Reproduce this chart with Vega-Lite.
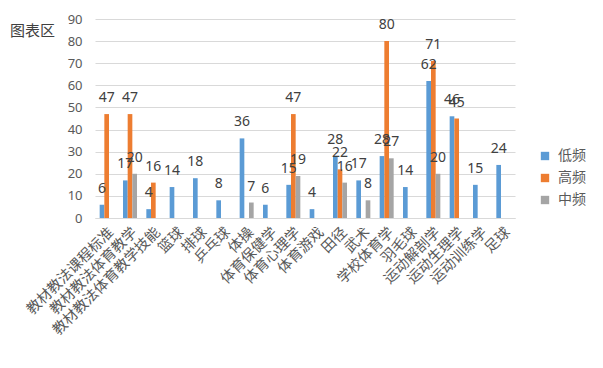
{
  "$schema": "https://vega.github.io/schema/vega-lite/v6.json",
  "width": 420,
  "height": 199,
  "autosize": {"type": "none"},
  "padding": {"left": 95, "top": 19, "right": 88, "bottom": 150},
  "background": "white",
  "title": {
    "text": "图表区",
    "anchor": "start",
    "frame": "group",
    "orient": "top",
    "dx": -85,
    "dy": 30,
    "fontSize": 15,
    "fontWeight": "normal",
    "font": "Noto Sans CJK SC",
    "color": "#404040"
  },
  "config": {
    "view": {"stroke": null},
    "font": "Noto Sans CJK SC",
    "axis": {"labelFont": "Noto Sans CJK SC", "labelColor": "#595959", "titleColor": "#595959"},
    "legend": {"labelFont": "Noto Sans CJK SC"}
  },
  "data": {
    "values": [
      {"cat": "教材教法课程标准", "series": "低频", "value": 6},
      {"cat": "教材教法课程标准", "series": "高频", "value": 47},
      {"cat": "教材教法体育教学", "series": "低频", "value": 17},
      {"cat": "教材教法体育教学", "series": "高频", "value": 47},
      {"cat": "教材教法体育教学", "series": "中频", "value": 20},
      {"cat": "教材教法体育教学技能", "series": "低频", "value": 4},
      {"cat": "教材教法体育教学技能", "series": "高频", "value": 16},
      {"cat": "篮球", "series": "低频", "value": 14},
      {"cat": "排球", "series": "低频", "value": 18},
      {"cat": "乒乓球", "series": "低频", "value": 8},
      {"cat": "体操", "series": "低频", "value": 36},
      {"cat": "体操", "series": "中频", "value": 7},
      {"cat": "体育保健学", "series": "低频", "value": 6},
      {"cat": "体育心理学", "series": "低频", "value": 15},
      {"cat": "体育心理学", "series": "高频", "value": 47},
      {"cat": "体育心理学", "series": "中频", "value": 19},
      {"cat": "体育游戏", "series": "低频", "value": 4},
      {"cat": "田径", "series": "低频", "value": 28},
      {"cat": "田径", "series": "高频", "value": 22},
      {"cat": "田径", "series": "中频", "value": 16},
      {"cat": "武术", "series": "低频", "value": 17},
      {"cat": "武术", "series": "中频", "value": 8},
      {"cat": "学校体育学", "series": "低频", "value": 28},
      {"cat": "学校体育学", "series": "高频", "value": 80},
      {"cat": "学校体育学", "series": "中频", "value": 27},
      {"cat": "羽毛球", "series": "低频", "value": 14},
      {"cat": "运动解剖学", "series": "低频", "value": 62},
      {"cat": "运动解剖学", "series": "高频", "value": 71},
      {"cat": "运动解剖学", "series": "中频", "value": 20},
      {"cat": "运动生理学", "series": "低频", "value": 46},
      {"cat": "运动生理学", "series": "高频", "value": 45},
      {"cat": "运动训练学", "series": "低频", "value": 15},
      {"cat": "足球", "series": "低频", "value": 24}
    ]
  },
  "encoding": {
    "x": {
      "field": "cat",
      "type": "nominal",
      "sort": null,
      "scale": {"paddingInner": 0.4, "paddingOuter": 0.2},
      "axis": {
        "title": null,
        "labelAngle": -45,
        "labelFontSize": 14.5,
        "labelPadding": 7,
        "ticks": false,
        "domainColor": "#d9d9d9",
        "labelOverlap": false,
        "labelLimit": 300
      }
    },
    "xOffset": {
      "field": "series",
      "type": "nominal",
      "scale": {"domain": ["低频", "高频", "中频"], "paddingInner": 0, "paddingOuter": 0}
    },
    "y": {
      "field": "value",
      "type": "quantitative",
      "scale": {"domain": [0, 90], "nice": false},
      "axis": {
        "title": null,
        "values": [0, 10, 20, 30, 40, 50, 60, 70, 80, 90],
        "labelOverlap": false,
        "labelFontSize": 13,
        "labelPadding": 13,
        "ticks": false,
        "domain": false,
        "gridColor": "#d9d9d9",
        "labelFont": "Noto Sans"
      }
    }
  },
  "layer": [
    {
      "mark": {"type": "bar"},
      "encoding": {
        "color": {
          "field": "series",
          "type": "nominal",
          "scale": {"domain": ["低频", "高频", "中频"], "range": ["#5b9bd5", "#ed7d31", "#a5a5a5"]},
          "legend": {
            "title": null,
            "orient": "none",
            "legendX": 443,
            "legendY": 130,
            "symbolType": "square",
            "symbolSize": 70,
            "symbolStrokeWidth": 0,
            "labelFontSize": 14,
            "labelColor": "#595959",
            "rowPadding": 8,
            "labelOffset": 6
          }
        }
      }
    },
    {
      "mark": {"type": "text", "baseline": "bottom", "dy": -9, "fontSize": 14, "color": "#404040", "font": "Noto Sans"},
      "encoding": {
        "text": {"field": "value", "type": "quantitative"}
      }
    }
  ]
}
